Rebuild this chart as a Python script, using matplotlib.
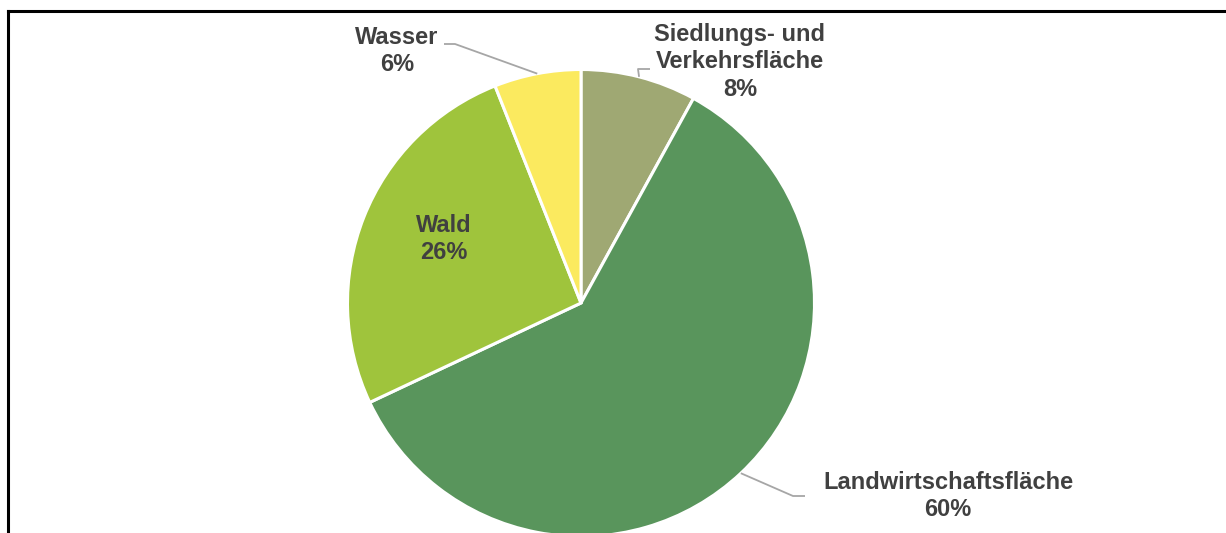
import matplotlib.pyplot as plt
import numpy as np

plt.rcParams['font.family'] = ['Liberation Sans', 'DejaVu Sans']

# data
categories = ['Siedlungs- und\nVerkehrsfläche', 'Landwirtschaftsfläche', 'Wald', 'Wasser']
shares = [8, 60, 26, 6]
colors = ['#9FA873', '#59955C', '#9FC43C', '#FBEA5F']

W, H = 1226, 533
fig = plt.figure(figsize=(W / 100, H / 100), dpi=100)
ax = fig.add_axes([0, 0, 1, 1])

cx, cy, r = 581, H - 303, 233.5
wedges, _ = ax.pie(shares, colors=colors, startangle=90, counterclock=False,
                   center=(cx, cy), radius=r, frame=True,
                   wedgeprops=dict(edgecolor='white', linewidth=2.2))
ax.set_xlim(0, W)
ax.set_ylim(0, H)
ax.set_aspect('equal')
ax.axis('off')

txt = dict(ha='center', va='center', fontsize=17, fontweight='bold',
           color='#404040', linespacing=1.23)
lead = dict(color='#A6A6A6', lw=1.3, solid_capstyle='butt')

def edge_point(w):
    a = np.deg2rad((w.theta1 + w.theta2) / 2)
    return cx + r * np.cos(a), cy + r * np.sin(a)

# label positions (pixels from top) and leader bends
labels = [
    ((740, 62), [(638, 69), (650, 69)]),
    ((948, 496), [(793, 496), (805, 496)]),
    ((444, 239), None),
    ((397, 51), [(455, 44), (444, 44)]),
]

for w, cat, val, (pos, bends) in zip(wedges, categories, shares, labels):
    ax.text(pos[0], H - pos[1], f'{cat}\n{val}%', **txt)
    if bends:
        x0, y0 = edge_point(w)
        xs = [x0] + [b[0] for b in bends]
        ys = [y0] + [H - b[1] for b in bends]
        ax.plot(xs, ys, **lead)

# frame lines (top and left)
fig.add_artist(plt.Line2D([8 / W, 1], [1 - 10.5 / H, 1 - 10.5 / H], color='black', lw=2.2))
fig.add_artist(plt.Line2D([8 / W, 8 / W], [0, 1 - 10.5 / H], color='black', lw=2.2))

fig.savefig('out.png', dpi=100, facecolor='white')
